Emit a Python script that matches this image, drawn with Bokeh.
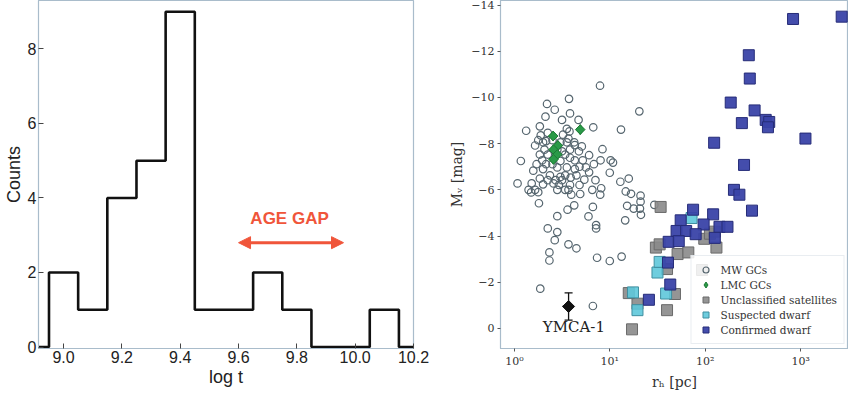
from bokeh.plotting import figure
from bokeh.models import Range1d, FixedTicker, Arrow, NormalHead, Label, Legend, LegendItem
from bokeh.layouts import row
from bokeh.embed import file_html
from bokeh.resources import INLINE

# ---------------- Left panel data: histogram of log t ----------------
bin_edges = [8.95, 9.05, 9.15, 9.25, 9.35, 9.45, 9.55, 9.65, 9.75, 9.85, 9.95, 10.05, 10.15]
counts = [2, 1, 4, 5, 9, 1, 1, 2, 1, 0, 0, 1]
hist_x_ticks = [9.0, 9.2, 9.4, 9.6, 9.8, 10.0, 10.2]
hist_x_labels = ["9.0", "9.2", "9.4", "9.6", "9.8", "10.0", "10.2"]
hist_y_ticks = [0, 2, 4, 6, 8]
gap_start, gap_end, gap_y = 9.60, 9.96, 2.8
gap_label = "AGE GAP"
gap_label_x, gap_label_y = 9.775, 3.45

# ---------------- Right panel data: Mv vs r_h ----------------
mw_r = [7.9, 20.4, 3.74, 2.20, 2.65, 3.83, 2.12, 3.16, 4.71, 1.33, 1.85, 3.55, 3.78, 6.71, 13.1,
        1.89, 3.24, 1.65, 2.0, 3.55, 3.16, 8.38, 5.09, 1.17, 1.96, 3.83, 4.75, 6.07, 8.0, 10.2,
        10.8, 1.58, 2.0, 2.82, 3.55, 4.3, 5.21, 6.07, 10.0, 2.36, 3.04, 3.89, 4.47, 5.41, 1.08,
        1.52, 2.0, 2.57, 3.16, 3.83, 1.41, 1.65, 2.82, 3.69, 3.95, 4.9, 6.56, 8.13, 7.94, 12.9,
        15.8, 14.7, 16.7, 21.0, 21.0, 20.7, 15.2, 17.8, 21.2, 14.5, 1.81, 2.82, 4.24, 3.61, 6.65,
        5.98, 7.19, 7.19, 2.24, 2.82, 2.65, 3.69, 4.47, 2.33, 2.33, 7.36, 10.0, 13.3, 1.87, 6.65,
        1.50, 1.78, 29.3,
        2.24, 2.51, 3.04, 3.69, 4.24, 2.24, 2.51, 3.04, 3.41, 4.3, 4.82, 2.15, 1.85, 1.71, 2.71,
        3.41, 2.24, 1.85, 2.93, 3.41, 4.82, 4.3, 3.83, 2.82, 2.07, 1.78, 2.15, 5.62, 6.81, 7.08]
mw_mv = [-10.51, -9.40, -9.94, -9.72, -9.47, -9.31, -9.17, -9.03, -9.03, -8.56, -8.75, -8.64, -8.53, -8.71, -8.61,
         -8.36, -8.39, -7.92, -8.06, -8.06, -7.67, -7.76, -7.88, -7.25, -7.28, -7.39, -7.67, -7.50, -7.28, -7.28,
         -7.18, -6.83, -6.90, -6.97, -6.97, -6.90, -7.28, -6.76, -6.74, -6.63, -6.56, -6.53, -6.63, -6.44, -6.28,
         -6.28, -6.24, -6.28, -6.42, -6.21, -6.00, -6.00, -6.00, -6.00, -5.79, -5.82, -6.00, -6.07, -5.79, -6.35,
         -6.49, -5.93, -5.83, -5.75, -5.49, -5.19, -5.31, -5.19, -4.92, -4.68, -5.42, -4.86, -5.33, -5.14, -5.26,
         -4.85, -4.47, -4.33, -4.33, -4.17, -3.82, -3.64, -3.47, -3.29, -2.94, -3.06, -2.92, -3.11, -1.72, -0.97,
         -5.89, -5.90, -5.35,
         -8.47, -8.15, -8.06, -8.22, -8.06, -7.53, -7.11, -7.25, -7.53, -7.28, -7.00, -7.11, -7.53, -7.11, -6.42,
         -6.63, -6.42, -6.49, -6.21, -6.00, -6.21, -7.94, -7.74, -7.74, -7.74, -8.15, -8.11, -6.97, -7.11, -6.42]

lmc_r = [2.55, 4.9, 2.86, 2.57, 2.82, 2.57]
lmc_mv = [-8.33, -8.61, -7.92, -7.74, -7.53, -7.32]

uncl_r = [34.1, 30.4, 33.3, 51.3, 66.5, 92.7, 131, 97.7, 112, 39.8, 48.2, 39.8, 17.1, 19.5, 15.8, 126]
uncl_mv = [-5.26, -3.50, -3.64, -3.22, -3.29, -2.53, -3.50, -3.88, -4.10, -2.57, -1.49, -0.79, 0.04, -1.07, -1.53, -4.19]

susp_r = [17.5, 19.5, 38.9, 31.6, 33.3, 71.9]
susp_mv = [-1.56, -0.79, -1.51, -2.42, -2.88, -4.78]

conf_r = [832, 2690, 286, 293, 185, 329, 242, 430, 468, 454, 124, 1122, 255, 200, 228, 309,
          74.6, 121, 55.3, 96.2, 141, 171, 50.1, 63.1, 79.4, 126, 41.4, 52.8, 40.7, 43.0, 25.7]
conf_mv = [-13.4, -13.5, -11.83, -10.82, -9.78, -9.44, -8.89, -9.03, -8.94, -8.71, -8.04, -8.22, -7.08, -6.0, -5.79, -5.10,
           -5.14, -4.94, -4.68, -4.50, -4.40, -4.40, -4.22, -4.22, -4.08, -3.92, -3.75, -3.78, -2.85, -1.90, -1.24]

ymca_r, ymca_mv = 3.7, -0.95
ymca_r_lo, ymca_r_hi = 3.2, 4.2
ymca_mv_lo, ymca_mv_hi = -1.54, -0.36
ymca_label = "YMCA-1"
ymca_label_x, ymca_label_y = 4.2, -0.08

mv_ticks = [-14, -12, -10, -8, -6, -4, -2, 0]
r_ticks = [1, 10, 100, 1000]
r_tick_labels = ["10⁰", "10¹", "10²", "10³"]

FRAME = "#a9bccb"
SANS = "Liberation Sans"
SERIF = "DejaVu Serif"
GREEN, GREEN_EDGE = "#2a9a48", "#1e7a36"

# ---------------- Left panel ----------------
p1 = figure(width=446, height=392, output_backend="svg", toolbar_location=None,
            x_range=Range1d(8.914, 10.2), y_range=Range1d(-0.04, 9.3),
            min_border_left=35, min_border_right=33, min_border_top=0, min_border_bottom=40)
p1.grid.visible = False
p1.outline_line_color = FRAME
p1.outline_line_width = 1.2

step_x = [bin_edges[0] - 0.1] + bin_edges + [bin_edges[-1] + 0.1]
step_y = [0] + counts + [0, 0]
p1.step(step_x, step_y, mode="after", line_color="#111111", line_width=2.6)

p1.xaxis.ticker = FixedTicker(ticks=hist_x_ticks)
p1.xaxis.major_label_overrides = {t: lab for t, lab in zip(hist_x_ticks, hist_x_labels)}
p1.yaxis.ticker = FixedTicker(ticks=hist_y_ticks)
p1.xaxis.axis_label = "log t"
p1.yaxis.axis_label = "Counts"
for ax in (p1.xaxis[0], p1.yaxis[0]):
    ax.axis_line_color = FRAME
    ax.major_tick_line_color = "#444444"
    ax.major_tick_in = 5
    ax.major_tick_out = 0
    ax.minor_tick_line_color = None
    ax.major_label_text_font = SANS
    ax.major_label_text_font_size = "16px"
    ax.major_label_text_color = "#222222"
    ax.axis_label_text_font = SANS
    ax.axis_label_text_font_size = "18px"
    ax.axis_label_text_font_style = "normal"
    ax.axis_label_text_color = "#222222"
    ax.major_label_standoff = 2
    ax.axis_label_standoff = 1

red = "#f0553a"
p1.add_layout(Arrow(start=NormalHead(size=12, fill_color=red, line_color=red),
                    end=NormalHead(size=12, fill_color=red, line_color=red),
                    x_start=gap_start, y_start=gap_y, x_end=gap_end, y_end=gap_y,
                    line_color=red, line_width=3))
p1.add_layout(Label(x=gap_label_x, y=gap_label_y, text=gap_label, text_align="center",
                    text_baseline="middle", text_font=SANS, text_font_style="bold",
                    text_font_size="17px", text_color=red))

# ---------------- Right panel ----------------
p2 = figure(width=402, height=392, output_backend="svg", toolbar_location=None,
            x_axis_type="log", x_range=Range1d(0.716, 3170), y_range=Range1d(0.87, -14.2),
            min_border_left=50, min_border_right=0, min_border_top=0, min_border_bottom=38)
p2.grid.visible = False
p2.outline_line_color = FRAME
p2.outline_line_width = 1.2

r_mw = p2.scatter(mw_r, mw_mv, marker="circle", size=7.5, fill_color=None,
                  line_color="#56666f", line_width=1.2)
r_unc = p2.scatter(uncl_r, uncl_mv, marker="square", size=11, fill_color="#8a8a8a",
                   fill_alpha=0.9, line_color="#6a6a6a", line_width=1)
r_sus = p2.scatter(susp_r, susp_mv, marker="square", size=11, fill_color="#5ec8da",
                   fill_alpha=0.9, line_color="#3f8fa0", line_width=1)
r_con = p2.scatter(conf_r, conf_mv, marker="square", size=11, fill_color="#3a43a8",
                   fill_alpha=0.95, line_color="#262c78", line_width=1)
# LMC GCs: a diamond layer (used for the legend key) covered by rotated squares
r_lmc_key = p2.scatter(lmc_r, lmc_mv, marker="diamond", size=10,
                       fill_color=GREEN, line_color=GREEN_EDGE, line_width=1)
p2.scatter(lmc_r, lmc_mv, marker="square", angle=0.785398, size=6.8,
           fill_color=GREEN, line_color=GREEN_EDGE, line_width=1)

# YMCA-1 with error bars
p2.segment(x0=[ymca_r], y0=[ymca_mv_lo], x1=[ymca_r], y1=[ymca_mv_hi], line_color="#111111", line_width=1.3)
p2.segment(x0=[ymca_r_lo], y0=[ymca_mv], x1=[ymca_r_hi], y1=[ymca_mv], line_color="#111111", line_width=1.3)
p2.scatter([ymca_r, ymca_r], [ymca_mv_lo, ymca_mv_hi], marker="dash", size=8,
           line_color="#111111", line_width=1.3)
p2.scatter([ymca_r], [ymca_mv], marker="square", angle=0.785398, size=8.5,
           fill_color="#111111", line_color="#111111")
p2.add_layout(Label(x=ymca_label_x, y=ymca_label_y, text=ymca_label, text_align="center",
                    text_baseline="middle", text_font=SERIF, text_font_size="15px",
                    text_color="#222222"))

p2.xaxis.ticker = FixedTicker(ticks=r_ticks)
p2.xaxis.major_label_overrides = {t: lab for t, lab in zip(r_ticks, r_tick_labels)}
p2.yaxis.ticker = FixedTicker(ticks=mv_ticks)
p2.yaxis.major_label_overrides = {t: (str(t).replace("-", "−")) for t in mv_ticks}
p2.xaxis.axis_label = "rₕ [pc]"
p2.yaxis.axis_label = "Mᵥ [mag]"
for ax in (p2.xaxis[0], p2.yaxis[0]):
    ax.axis_line_color = FRAME
    ax.major_tick_line_color = "#555555"
    ax.major_tick_in = 0
    ax.major_tick_out = 3
    ax.minor_tick_line_color = None
    ax.major_label_text_font = SERIF
    ax.major_label_text_font_size = "11px"
    ax.major_label_text_color = "#333333"
    ax.axis_label_text_font = SERIF
    ax.axis_label_text_font_size = "14px"
    ax.axis_label_text_font_style = "normal"
    ax.axis_label_text_color = "#333333"
    ax.major_label_standoff = 3
    ax.axis_label_standoff = 3

legend = Legend(items=[LegendItem(label="MW GCs", renderers=[r_mw]),
                       LegendItem(label="LMC GCs", renderers=[r_lmc_key]),
                       LegendItem(label="Unclassified satellites", renderers=[r_unc]),
                       LegendItem(label="Suspected dwarf", renderers=[r_sus]),
                       LegendItem(label="Confirmed dwarf", renderers=[r_con])],
                location="bottom_right")
legend.label_text_font = SERIF
legend.label_text_font_size = "10.5px"
legend.label_text_color = "#333333"
legend.label_height = 15
legend.glyph_height = 15
legend.glyph_width = 16
legend.spacing = 0
legend.padding = 6
legend.margin = 4
legend.label_standoff = 7
legend.border_line_color = "#d3dbe4"
legend.background_fill_alpha = 0.85
p2.add_layout(legend)

layout = row(p1, p2)
open("out.html", "w").write(file_html(layout, INLINE))
